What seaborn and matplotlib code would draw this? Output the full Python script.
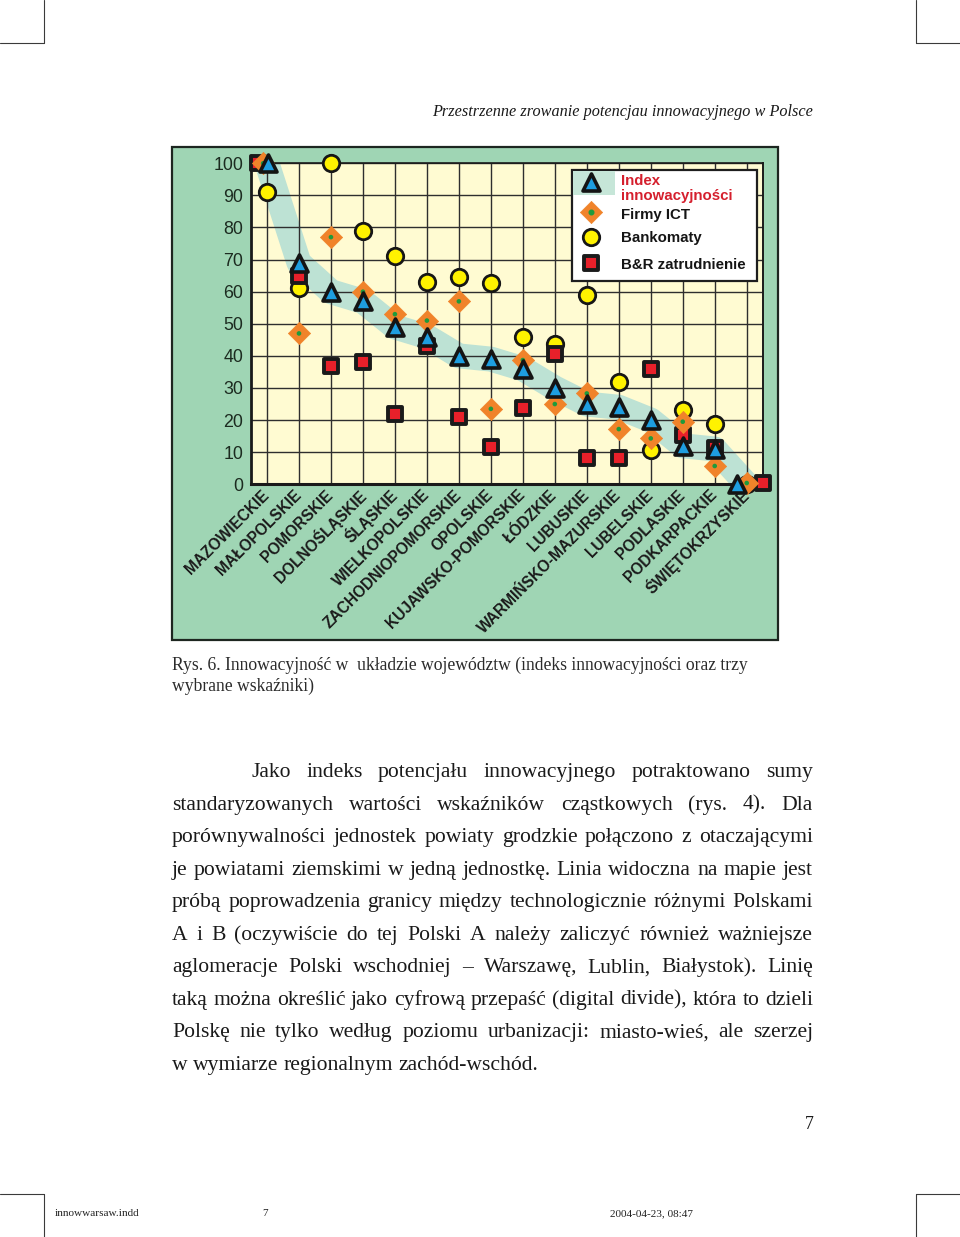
import numpy as np
import pandas as pd
import matplotlib
matplotlib.use("Agg")
import matplotlib.pyplot as plt
from matplotlib.patches import Rectangle
from matplotlib.lines import Line2D
from matplotlib.markers import MarkerStyle
import seaborn as sns

# ---- data ----
regions = ["MAZOWIECKIE", "MAŁOPOLSKIE", "POMORSKIE", "DOLNOŚLĄSKIE", "ŚLĄSKIE",
           "WIELKOPOLSKIE", "ZACHODNIOPOMORSKIE", "OPOLSKIE", "KUJAWSKO-POMORSKIE",
           "ŁÓDZKIE", "LUBUSKIE", "WARMIŃSKO-MAZURSKIE", "LUBELSKIE", "PODLASKIE",
           "PODKARPACKIE", "ŚWIĘTOKRZYSKIE"]
index_innow = [100, 69, 60, 57, 49, 46, 40, 39, 36, 30, 25, 24, 20, 12, 11, 0]
firmy_ict = [100, 47, 77, 60, 53, 51, 57, 23.5, 38.7, 25, 28.3, 17.2, 14.3, 19.5, 5.7, 0.4]
bankomaty = [91, 61, 100, 79, 71, 63, 64.5, 62.8, 46, 43.6, 59, 32, 10.7, 23, 18.8, 0]
br_zatrudnienie = [100, 65, 37, 38, 22, 43, 21, 11.5, 23.9, 40.6, 8.3, 8.3, 36, 15.4, 11.4, 0.3]
y_ticks = list(range(0, 101, 10))
legend_labels = ["Index\ninnowacyjności", "Firmy ICT", "Bankomaty", "B&R zatrudnienie"]

header = "Przestrzenne zrowanie potencjau innowacyjnego w Polsce"
caption = ["Rys. 6. Innowacyjność w  układzie województw (indeks innowacyjności oraz trzy",
           "wybrane wskaźniki)"]
body = ["Jako indeks potencjału innowacyjnego potraktowano sumy",
        "standaryzowanych wartości wskaźników cząstkowych (rys. 4). Dla",
        "porównywalności jednostek powiaty grodzkie połączono z otaczającymi",
        "je powiatami ziemskimi w jedną jednostkę. Linia widoczna na mapie jest",
        "próbą poprowadzenia granicy między technologicznie różnymi Polskami",
        "A i B (oczywiście do tej Polski A należy zaliczyć również ważniejsze",
        "aglomeracje Polski wschodniej – Warszawę, Lublin, Białystok). Linię",
        "taką można określić jako cyfrową przepaść (digital divide), która to dzieli",
        "Polskę nie tylko według poziomu urbanizacji: miasto-wieś, ale szerzej",
        "w wymiarze regionalnym zachód-wschód."]

W, H = 960, 1237
sns.set_style("white")
plt.rcParams["font.family"] = ["Liberation Sans", "DejaVu Sans"]

fig = plt.figure(figsize=(W / 100, H / 100), dpi=100)
fig.patch.set_facecolor("white")


def fx(px):
    return px / W


def fy(py):
    return 1 - py / H


# green panel behind the chart
fig.add_artist(Rectangle((fx(172), fy(640)), fx(778) - fx(172), fy(147) - fy(640),
                         transform=fig.transFigure, facecolor="#9fd5b4",
                         edgecolor="#1d2620", linewidth=1.6, zorder=-5))

ax = fig.add_axes([fx(251), fy(484.3), (762.7 - 251) / W, 321 / H])
ax.set_facecolor("#fffbd2")
ax.set_axisbelow(True)

n = len(regions)
pos = np.arange(n)
df = pd.DataFrame({"pos": pos, "index": index_innow, "ict": firmy_ict,
                   "atm": bankomaty, "rd": br_zatrudnienie})

# light band following the index
sns.lineplot(data=df, x="pos", y="index", ax=ax, color="#bde2d4", linewidth=18,
             solid_capstyle="round", solid_joinstyle="round", zorder=0.2, sort=False)

# overlapping markers at the extremes nudged apart, as in the original
nudge_top = {"rd": -0.27, "ict": -0.12, "index": 0.04, "atm": 0.0}
nudge_bottom = {"rd": 0.5, "ict": 0.0, "index": -0.3, "atm": 0.0}


def xs_for(col):
    x = df["pos"].astype(float).copy()
    x.iloc[0] += nudge_top[col]
    x.iloc[-1] += nudge_bottom[col]
    return x


styles = {
    "atm": dict(marker=MarkerStyle("o"), s=140, color="#fff200", edgecolor="#161616", linewidth=2.0, zorder=3),
    "rd": dict(marker=MarkerStyle("s", joinstyle="round"), s=112, color="#e8202a", edgecolor="#1a1a1a", linewidth=2.8, zorder=4),
    "ict": dict(marker=MarkerStyle("D", joinstyle="round"), s=128, color="#f0832a", edgecolor="#f0832a", linewidth=0.5, zorder=5),
    "index": dict(marker=MarkerStyle("^", joinstyle="round"), s=150, color="#1e9ee0", edgecolor="#141414", linewidth=2.6, zorder=6),
}

for col in ["atm", "rd", "ict", "index"]:
    sns.scatterplot(x=xs_for(col), y=df[col], ax=ax, clip_on=False, legend=False, **styles[col])
    if col == "ict":
        sns.scatterplot(x=xs_for(col), y=df[col], ax=ax, marker="o", s=11, color="#1f9a3c",
                        edgecolor="none", linewidth=0, zorder=5.5, clip_on=False, legend=False)

ax.set_xlim(-0.5, n - 0.5)
ax.set_ylim(0, 100)
ax.set_xlabel("")
ax.set_ylabel("")

ax.set_xticks(pos)
ax.set_xticklabels(regions, rotation=45, ha="right", rotation_mode="anchor",
                   fontsize=11.2, fontweight="bold", color="#1b1b1b")
for lab in ax.get_xticklabels():
    lab.set_va("center")
ax.set_xticks(np.arange(-0.5, n, 1), minor=True)
ax.tick_params(axis="x", which="major", length=0, pad=6)
ax.tick_params(axis="x", which="minor", length=5, width=1.2, color="#1a1a1a", direction="out")
ax.set_yticks(y_ticks)
ax.tick_params(axis="y", length=5, width=1.2, color="#1a1a1a", direction="out",
               labelsize=12.8, labelcolor="#1c2b20", pad=0.5)
ax.grid(True, which="major", color="#2e2e2e", linewidth=1.0)

for side, lw in [("left", 2.0), ("bottom", 2.2), ("top", 1.2), ("right", 1.4)]:
    ax.spines[side].set_linewidth(lw)
    ax.spines[side].set_color("#1a1a1a")


# ---- hand-drawn legend in the upper right ----
def axp(px, py):
    return (px - 251) / (762.7 - 251), (484.3 - py) / 321


lx0, ly0 = axp(572, 281)
lx1, ly1 = axp(757, 170)
ax.add_patch(Rectangle((lx0, ly0), lx1 - lx0, ly1 - ly0, transform=ax.transAxes,
                       facecolor="white", edgecolor="#1e1e1e", linewidth=1.6,
                       zorder=10, clip_on=False))
hx0, hy0 = axp(573, 195)
hx1, hy1 = axp(615, 171)
ax.add_patch(Rectangle((hx0, hy0), hx1 - hx0, hy1 - hy0, transform=ax.transAxes,
                       facecolor="#c6e6d8", edgecolor="none", zorder=10.5, clip_on=False))

leg_marker_y = [182, 212, 237, 263]
leg_text_y = [188.5, 215, 238, 265]
leg_cols = ["index", "ict", "atm", "rd"]
leg_colors = ["#d51f2d", "#151515", "#151515", "#151515"]
for col, my, ty, lab, c in zip(leg_cols, leg_marker_y, leg_text_y, legend_labels, leg_colors):
    mx, myy = axp(591, my)
    st = styles[col]
    ax.scatter([mx], [myy], transform=ax.transAxes, clip_on=False,
               marker=st["marker"], s=st["s"], c=st["color"], edgecolors=st["edgecolor"],
               linewidths=st["linewidth"], zorder=11)
    if col == "ict":
        ax.scatter([mx], [myy], transform=ax.transAxes, clip_on=False, marker="o",
                   s=11, c="#1f9a3c", zorder=12)
    tx, tyy = axp(621, ty)
    ax.text(tx, tyy, lab, transform=ax.transAxes, ha="left", va="center",
            fontsize=10.8, fontweight="bold", color=c, linespacing=1.15, zorder=12)

# ---- page text ----
renderer = fig.canvas.get_renderer()
serif = ["Liberation Serif", "DejaVu Serif"]


def width_of(s, size, **kw):
    t = fig.text(0, 0, s, fontsize=size, family=serif, **kw)
    w = t.get_window_extent(renderer).width
    t.remove()
    return w


def fitted_size(s, target, **kw):
    return 20 * target / width_of(s, 20, **kw)


# header
hs = fitted_size(header, 381, style="italic")
fig.text(fx(813), fy(116), header, ha="right", va="baseline", fontsize=hs,
         family=serif, style="italic", color="#1a1a1a")

# caption
cs = fitted_size(caption[0], 578)
for i, line in enumerate(caption):
    fig.text(fx(172), fy(670 + 21 * i), line, ha="left", va="baseline",
             fontsize=cs, family=serif, color="#2b2b2b")

# body, justified
bs = min(fitted_size(l, 641) for l in body[2:9]) * 0.995
space = width_of("a a", bs) - width_of("aa", bs)
for i, line in enumerate(body):
    base = 777 + 32.55 * i
    left = 251 if i == 0 else 172
    words = line.split(" ")
    widths = [width_of(w, bs) for w in words]
    if i == len(body) - 1:
        gap = space
    else:
        gap = (813 - left - sum(widths)) / (len(words) - 1)
    x = left
    for w, ww in zip(words, widths):
        fig.text(fx(x), fy(base), w, ha="left", va="baseline", fontsize=bs,
                 family=serif, color="#1a1a1a")
        x += ww + gap

# page number
fig.text(fx(814), fy(1129), "7", ha="right", va="baseline", fontsize=13,
         family=serif, color="#1a1a1a")

# footer
fs = fitted_size("innowwarsaw.indd", 85)
fig.text(fx(55), fy(1216), "innowwarsaw.indd", ha="left", va="baseline", fontsize=fs,
         family=serif, color="#222222")
fig.text(fx(262), fy(1216), "7", ha="left", va="baseline", fontsize=fs,
         family=serif, color="#222222")
fig.text(fx(610), fy(1216), "2004-04-23, 08:47", ha="left", va="baseline", fontsize=fs,
         family=serif, color="#222222")

# crop marks
for xs, ys in [([0, 44], [43, 43]), ([44, 44], [0, 43]),
               ([916, 960], [43, 43]), ([916, 916], [0, 43]),
               ([0, 44], [1194, 1194]), ([44, 44], [1194, 1237]),
               ([916, 960], [1194, 1194]), ([916, 916], [1194, 1237])]:
    fig.add_artist(Line2D([fx(v) for v in xs], [fy(v) for v in ys],
                          transform=fig.transFigure, color="#3a3a3a", linewidth=0.8))

fig.savefig("out.png", dpi=100)
